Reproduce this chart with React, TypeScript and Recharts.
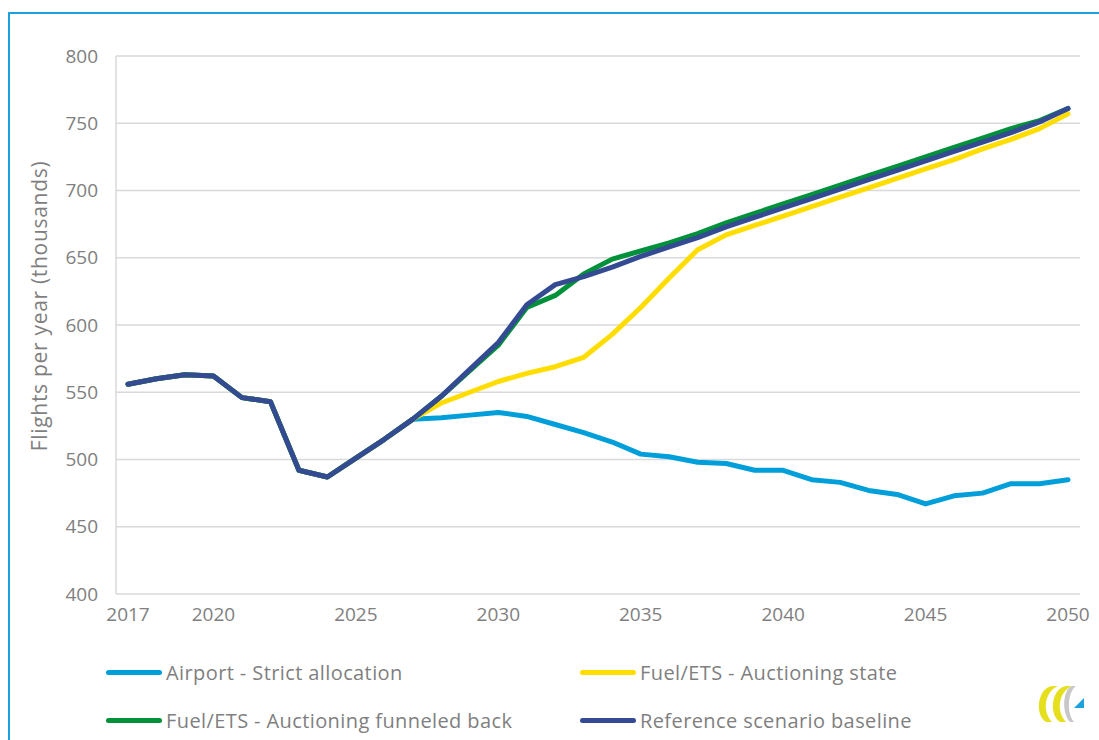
import { LineChart, Line, XAxis, YAxis, CartesianGrid } from 'recharts';

const years = [
  2017, 2018, 2019, 2020, 2021, 2022, 2023, 2024, 2025, 2026, 2027, 2028,
  2029, 2030, 2031, 2032, 2033, 2034, 2035, 2036, 2037, 2038, 2039, 2040,
  2041, 2042, 2043, 2044, 2045, 2046, 2047, 2048, 2049, 2050,
];

const airportStrict = [
  556, 560, 563, 562, 546, 543, 492, 487, 501, 515, 530, 531,
  533, 535, 532, 526, 520, 513, 504, 502, 498, 497, 492, 492,
  485, 483, 477, 474, 467, 473, 475, 482, 482, 485,
];

const auctioningState = [
  556, 560, 563, 562, 546, 543, 492, 487, 501, 515, 530, 542,
  550, 558, 564, 569, 576, 593, 613, 635, 656, 667, 674, 681,
  688, 695, 702, 709, 716, 723, 731, 738, 746, 757,
];

const funneledBack = [
  556, 560, 563, 562, 546, 543, 492, 487, 501, 515, 530, 547,
  566, 585, 613, 622, 638, 649, 655, 661, 668, 676, 683, 690,
  697, 704, 711, 718, 725, 732, 739, 746, 752, 761,
];

const referenceBaseline = [
  556, 560, 563, 562, 546, 543, 492, 487, 501, 515, 530, 547,
  567, 587, 615, 630, 636, 643, 651, 658, 665, 673, 680, 687,
  694, 701, 708, 715, 722, 729, 736, 743, 751, 761,
];

const xTicks = [2017, 2020, 2025, 2030, 2035, 2040, 2045, 2050];
const yTicks = [400, 450, 500, 550, 600, 650, 700, 750, 800];

const series = [
  { key: 'airport', name: 'Airport - Strict allocation', color: '#009FDA', values: airportStrict },
  { key: 'state', name: 'Fuel/ETS - Auctioning state', color: '#FFDD00', values: auctioningState },
  { key: 'funneled', name: 'Fuel/ETS - Auctioning funneled back', color: '#00913A', values: funneledBack },
  { key: 'reference', name: 'Reference scenario baseline', color: '#344A93', values: referenceBaseline },
];

const data = years.map((year, i) => {
  const row: Record<string, number> = { year };
  series.forEach((s) => {
    row[s.key] = s.values[i];
  });
  return row;
});

const font = "'Open Sans', sans-serif";
const textColor = '#7f7f7f';
const gridColor = '#d9d9d9';

export default function App() {
  return (
    <div style={{ position: 'absolute', left: 0, top: 0, width: 1099, height: 740, background: '#fff', overflow: 'hidden', fontFamily: font }}>
      <div
        style={{
          position: 'absolute',
          left: 8,
          top: 12,
          right: -10,
          bottom: -10,
          borderLeft: '2px solid #1DA1DC',
          borderTop: '2px solid #1DA1DC',
        }}
      />
      <LineChart
        width={1099}
        height={740}
        data={data}
        margin={{ top: 56, right: 19, bottom: 106, left: 0 }}
        style={{ position: 'absolute', left: 0, top: 0 }}
      >
        <CartesianGrid vertical={false} stroke={gridColor} strokeWidth={1.5} />
        <XAxis
          dataKey="year"
          type="number"
          domain={[2017, 2050]}
          ticks={xTicks}
          padding={{ left: 12, right: 12 }}
          height={40}
          axisLine={false}
          tickLine={false}
          tickSize={0}
          tickMargin={14}
          tick={{ fill: textColor, fontSize: 19, fontFamily: font }}
        />
        <YAxis
          domain={[400, 800]}
          ticks={yTicks}
          width={116}
          axisLine={{ stroke: gridColor, strokeWidth: 1.5 }}
          tickLine={false}
          tickSize={0}
          tickMargin={18}
          tick={{ fill: textColor, fontSize: 19, fontFamily: font }}
          label={{
            value: 'Flights per year (thousands)',
            angle: -90,
            position: 'insideLeft',
            offset: 40,
            dy: -19,
            style: { textAnchor: 'middle', fill: textColor, fontSize: 21, letterSpacing: 0.7, fontFamily: font },
          }}
        />
        <YAxis
          yAxisId="right"
          orientation="right"
          domain={[400, 800]}
          width={0}
          tick={false}
          tickLine={false}
          axisLine={{ stroke: gridColor, strokeWidth: 1.5 }}
        />
        {series.map((s) => (
          <Line
            key={s.key}
            type="linear"
            dataKey={s.key}
            name={s.name}
            stroke={s.color}
            strokeWidth={5}
            strokeLinecap="round"
            strokeLinejoin="round"
            dot={false}
            activeDot={false}
            isAnimationActive={false}
          />
        ))}
      </LineChart>

      <div
        style={{
          position: 'absolute',
          left: 106,
          top: 655,
          display: 'grid',
          gridTemplateColumns: '474px 474px',
          rowGap: 14,
          fontSize: 20,
          letterSpacing: 0.4,
          color: textColor,
        }}
      >
        {series.map((s) => (
          <div key={s.key} style={{ display: 'flex', alignItems: 'center', height: 34 }}>
            <span style={{ display: 'inline-block', width: 56, height: 5, borderRadius: 3, background: s.color, marginRight: 4 }} />
            <span>{s.name}</span>
          </div>
        ))}
      </div>

      <svg width={60} height={60} style={{ position: 'absolute', left: 1030, top: 672 }}>
        <path d="M22 14 C8 16 4 42 16 50 L22 50 C12 40 14 20 28 14 Z" fill="#E6DF1E" />
        <path d="M36 14 C22 16 18 42 30 50 L36 50 C26 40 28 20 42 14 Z" fill="#E6DF1E" />
        <path d="M42 14 C32 18 32 42 40 50 L44 50 C36 40 38 20 46 14 Z" fill="#c8c8c8" />
        <path d="M44 36 L54 26 L54 36 Z" fill="#1DA1DC" />
      </svg>
    </div>
  );
}
